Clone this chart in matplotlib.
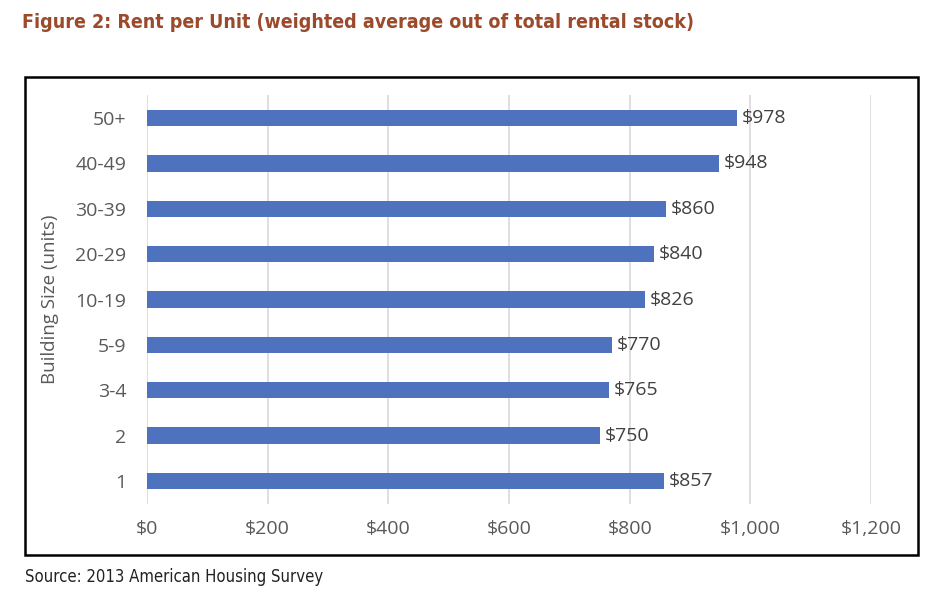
import matplotlib
matplotlib.use("Agg")
import matplotlib.pyplot as plt
from matplotlib.patches import Rectangle
from matplotlib.ticker import FuncFormatter

categories = ["1", "2", "3-4", "5-9", "10-19", "20-29", "30-39", "40-49", "50+"]
rents = [857, 750, 765, 770, 826, 840, 860, 948, 978]
xticks = [0, 200, 400, 600, 800, 1000, 1200]

fig = plt.figure(figsize=(9.44, 6.08), dpi=100)
fig.patch.set_facecolor("white")

ax = fig.add_axes([0.1557, 0.1715, 0.767, 0.6718])
ypos = range(len(categories))
ax.barh(ypos, rents, height=0.36, color="#4F72BE", zorder=3)
ax.set_ylim(-0.5, len(categories) - 0.5)
ax.set_xlim(0, 1200)
ax.set_xticks(xticks)
ax.xaxis.set_major_formatter(FuncFormatter(lambda v, p: "${:,.0f}".format(v)))
ax.set_yticks(list(ypos))
ax.set_yticklabels(categories)
ax.grid(axis="x", color="#D9D9D9", linewidth=1.2, zorder=0)
for s in ax.spines.values():
    s.set_visible(False)
ax.tick_params(axis="both", length=0, labelsize=14, labelcolor="#595959")
ax.tick_params(axis="x", pad=12)
ax.tick_params(axis="y", pad=15)
for lab in ax.get_xticklabels() + ax.get_yticklabels():
    lab.set_fontfamily("Open Sans")

for y, v in zip(ypos, rents):
    ax.text(v + 8, y, "${:,.0f}".format(v), va="center", ha="left",
            fontsize=14, color="#404040", family="Open Sans")

ax.set_ylabel("Building Size (units)", fontsize=13.5, color="#595959",
              family="Open Sans")
ax.yaxis.set_label_coords(-0.122, 0.5)

fig.patches.append(Rectangle((25 / 944, 1 - 555 / 608), (918 - 25) / 944, (555 - 77) / 608,
                             transform=fig.transFigure, fill=False,
                             edgecolor="black", linewidth=1.8))

fig.text(22 / 944, 1 - 22 / 608, "Figure 2: Rent per Unit (weighted average out of total rental stock)",
         fontsize=14, fontweight="bold", color="#9B4A2B", va="center", ha="left",
         family="DejaVu Sans", fontstretch="condensed")
fig.text(25 / 944, 1 - 577 / 608, "Source: 2013 American Housing Survey",
         fontsize=12, color="#222222", va="center", ha="left",
         family="DejaVu Sans", fontstretch="condensed")

fig.savefig("out.png", dpi=100, facecolor="white")
